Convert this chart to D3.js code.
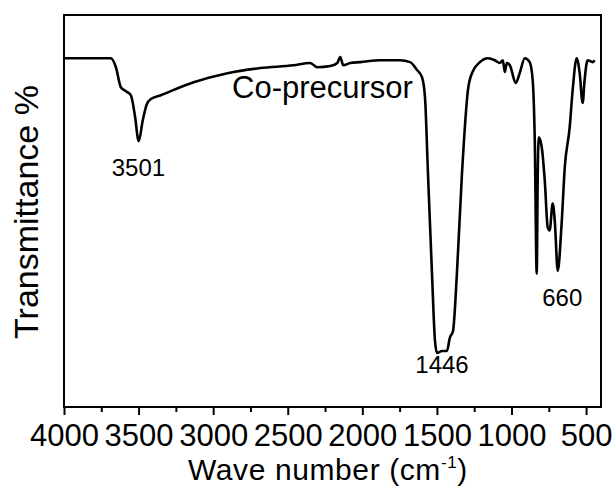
<!DOCTYPE html>
<html>
<head>
<meta charset="utf-8">
<script src="https://cdn.jsdelivr.net/npm/d3@7"></script>
<style>
  body { margin: 0; background: #fff; }
  svg { display: block; font-family: "Liberation Sans", Arial, sans-serif; }
</style>
</head>
<body>
<div id="chart"></div>
<script>
// FTIR spectrum of the Co-precursor

// wave numbers (cm-1) and transmittance (arbitrary %)
const wavenumber = [4000, 3686, 3652, 3619, 3585, 3552, 3525, 3499, 3472, 3445,
    3418, 3351, 3131, 2904, 2683, 2462, 2349, 2302, 2215, 2168,
    2148, 2128, 2081, 2014, 1881, 1747, 1680, 1633, 1600, 1580,
    1560, 1533, 1513, 1499, 1466, 1433, 1413, 1392, 1366, 1332,
    1292, 1265, 1212, 1158, 1112, 1078, 1058, 1045, 1031, 1011,
    971, 945, 911, 878, 858, 844, 831, 824, 817, 797,
    777, 757, 744, 724, 710, 690, 664, 643, 610, 590,
    563, 543, 523, 510, 490, 456, 443];
const transmittance = [89.0, 89.0, 86.7, 81.6, 80.6, 79.6, 74.5, 67.9, 73.2, 77.3,
    78.6, 79.6, 82.9, 85.2, 86.5, 87.2, 87.8, 86.7, 87.0, 87.8,
    89.3, 87.2, 87.8, 88.0, 88.5, 88.5, 88.0, 86.0, 84.2, 79.1,
    59.7, 34.2, 17.1, 14.0, 14.5, 14.5, 17.9, 19.6, 34.2, 59.7,
    80.9, 85.2, 88.0, 89.0, 88.5, 87.8, 88.5, 85.5, 87.8, 87.2,
    82.7, 85.2, 89.0, 88.0, 83.4, 68.1, 34.2, 59.7, 68.9, 66.3,
    57.9, 45.9, 45.2, 52.0, 47.7, 34.9, 46.9, 61.2, 71.4, 80.9,
    89.0, 85.2, 77.6, 83.4, 88.5, 88.0, 88.5];

// x axis ticks
const majorTicks = [4000, 3500, 3000, 2500, 2000, 1500, 1000, 500];
const minorTicks = [3750, 3250, 2750, 2250, 1750, 1250, 750];

// peak labels
const peakLabels = ["3501", "1446", "660"];
const peakPos = [3501, 1466, 660];
const peakValue = [59, 9, 26];
const seriesName = "Co-precursor";

const width = 614,
    height = 488,
    margin = ({top: 15, right: 13, bottom: 81, left: 64});

const data = wavenumber.map((w, i) => ({w: w, t: transmittance[i]}));

let svg = d3.select("#chart")
    .append("svg")
    .attr("width", width)
    .attr("height", height);

let x = d3.scaleLinear()
    .domain([4000, 400])
    .range([margin.left, width - margin.right]);

let y = d3.scaleLinear()
    .domain([0, 100])
    .range([height - margin.bottom + 1, margin.top]);

const plotBottom = height - margin.bottom;

// minor ticks
svg.append("g")
    .attr("transform", `translate(0,${plotBottom})`)
    .call(d3.axisBottom(x).tickValues(minorTicks).tickSize(5).tickFormat(""))
    .call(g => g.select(".domain").remove())
    .call(g => g.selectAll("line").attr("stroke-width", 2));

// major ticks with labels
svg.append("g")
    .attr("transform", `translate(0,${plotBottom})`)
    .call(d3.axisBottom(x).tickValues(majorTicks).tickSize(8).tickPadding(9).tickFormat(d3.format("d")))
    .call(g => g.select(".domain").remove())
    .call(g => g.selectAll("line").attr("stroke-width", 2))
    .call(g => g.selectAll("text")
        .style("font-size", "31px")
        .attr("fill", "#000"));

// frame
svg.append("rect")
    .attr("x", margin.left)
    .attr("y", margin.top)
    .attr("width", width - margin.left - margin.right)
    .attr("height", plotBottom - margin.top)
    .attr("fill", "none")
    .attr("stroke", "#000")
    .attr("stroke-width", 2);

// spectrum
let line = d3.line()
    .x(d => x(d.w))
    .y(d => y(d.t))
    .curve(d3.curveMonotoneX);

svg.append("path")
    .datum(data)
    .attr("fill", "none")
    .attr("stroke", "#000")
    .attr("stroke-width", 2.6)
    .attr("stroke-linejoin", "round")
    .attr("d", line);

// peak labels
svg.selectAll(".peak")
    .data(peakLabels)
    .join("text")
    .attr("class", "peak")
    .attr("x", (d, i) => x(peakPos[i]))
    .attr("y", (d, i) => y(peakValue[i]))
    .attr("text-anchor", "middle")
    .style("font-size", "24px")
    .text(d => d);

// series label
svg.append("text")
    .attr("x", 232)
    .attr("y", 98)
    .style("font-size", "31px")
    .text(seriesName);

// axis titles
let xt = svg.append("text")
    .attr("x", 188)
    .attr("y", 480)
    .style("font-size", "30px")
    .style("letter-spacing", "0.6px");
xt.append("tspan").text("Wave number (cm");
xt.append("tspan").attr("dy", -12).style("font-size", "17px").text("-1");
xt.append("tspan").attr("dy", 12).text(")");

svg.append("text")
    .attr("transform", "translate(38,212) rotate(-90)")
    .attr("text-anchor", "middle")
    .style("font-size", "34px")
    .text("Transmittance %");
</script>
</body>
</html>
